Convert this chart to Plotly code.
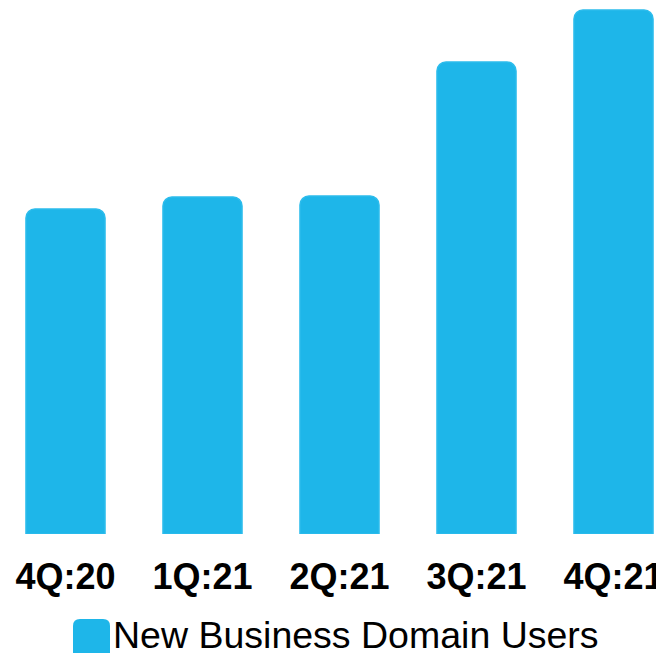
import plotly.graph_objects as go

categories = ["4Q:20", "1Q:21", "2Q:21", "3Q:21", "4Q:21"]
values = [325, 337, 338, 472, 524]
series_name = "New Business Domain Users"

BAR = "#1eb6e9"

fig = go.Figure()
fig.add_trace(go.Bar(
    x=categories, y=values, name=series_name,
    marker=dict(color=BAR, line=dict(color="#2cbcec", width=1.5)),
    showlegend=False,
))

# page body has an 8px margin, so the figure is sized to fit the window
W, H = 656, 645
plot_h = 526

def px(x):
    return x / W
def py(y):
    return (plot_h - y) / plot_h

# legend swatch (rounded square) in paper coords
x0, x1, y0, y1, r = 65, 102, 611, 652, 7
path = (f"M{px(x0+r)},{py(y0)} L{px(x1-r)},{py(y0)} Q{px(x1)},{py(y0)} {px(x1)},{py(y0+r)} "
        f"L{px(x1)},{py(y1-r)} Q{px(x1)},{py(y1)} {px(x1-r)},{py(y1)} L{px(x0+r)},{py(y1)} "
        f"Q{px(x0)},{py(y1)} {px(x0)},{py(y1-r)} L{px(x0)},{py(y0+r)} Q{px(x0)},{py(y0)} {px(x0+r)},{py(y0)} Z")
fig.add_shape(type="path", xref="paper", yref="paper", path=path,
              fillcolor=BAR, line=dict(width=0))
fig.add_annotation(xref="paper", yref="paper", x=px(103), y=py(627),
                   xanchor="left", yanchor="middle", showarrow=False,
                   text=series_name,
                   font=dict(family="Liberation Sans, Arial", size=37.5, color="#000"))

fig.update_layout(
    width=W, height=H,
    margin=dict(l=0, r=0, t=0, b=H - plot_h, pad=0),
    plot_bgcolor="white", paper_bgcolor="white",
    bargap=0.423,
    barcornerradius=9,
    xaxis=dict(
        range=[-0.4197, 4.3686], showgrid=False, zeroline=False, showline=False,
        ticks="outside", ticklen=11, tickcolor="rgba(0,0,0,0)",
        tickfont=dict(family="Liberation Sans, Arial", size=36, color="#000", weight="bold"),
    ),
    yaxis=dict(range=[0, plot_h], visible=False),
)

fig.write_html("out.html")
